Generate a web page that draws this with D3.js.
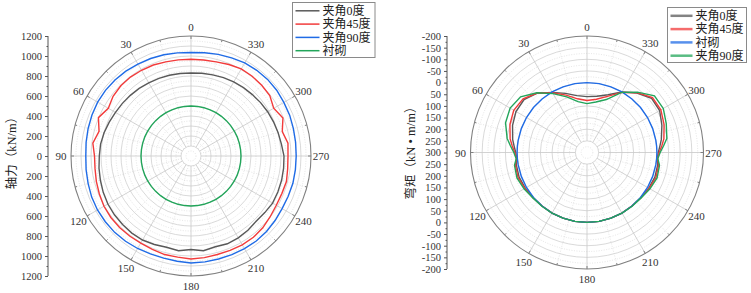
<!DOCTYPE html>
<html>
<head>
<meta charset="utf-8">
<script src="https://cdn.jsdelivr.net/npm/d3@7"></script>
<style>
  body { margin: 0; background: #fff; }
  text { font-family: "Liberation Serif", "Noto Sans CJK SC", serif; }
</style>
</head>
<body>
<svg width="751" height="293"></svg>
<script>
// ---- data: axial force (left) ----
var axialAngles = [0,7.5,15,22.5,30,37.5,45,52.5,60,67.5,75,82.5,90,97.5,105,112.5,120,127.5,135,142.5,150,157.5,165,172.5,
                   180,187.5,195,202.5,210,217.5,225,232.5,240,247.5,255,262.5,270,277.5,285,292.5,300,307.5,315,322.5,330,337.5,345,352.5]
var axial0 = [830,832,836,840,845,852,858,865,872,885,900,912,917,928,938,950,960,965,968,972,970,958,945,955,
              935,955,940,950,945,935,922,930,942,940,938,934,930,912,902,893,885,877,868,862,855,848,840,834]
var axial45 = [967,970,975,985,990,995,993,982,955,1002,952,990,965,968,980,992,1005,1010,1010,1008,1005,1010,1020,1020,
               1030,1025,1020,1022,1025,1025,1015,998,985,983,988,975,970,978,945,995,955,993,1000,1005,1005,990,975,968]
var axial90 = [1035,1040,1048,1055,1062,1070,1075,1078,1078,1072,1065,1058,1052,1058,1065,1075,1080,1080,1080,1075,1068,1060,1058,1062,
               1070,1068,1066,1068,1070,1072,1068,1060,1052,1052,1055,1053,1052,1055,1060,1068,1072,1080,1083,1080,1075,1062,1052,1042]
var axialLining = [500,500,500,500,500,500,500,500,500,500,500,500,500,500,500,500,500,500,500,500,500,500,500,500,
                   500,500,500,500,500,500,500,500,500,500,500,500,500,500,500,500,500,500,500,500,500,500,500,500]
var axialTicks = [0,200,400,600,800,1000,1200]

// ---- data: bending moment (right) ----
var momentAngles = [0,10,20,30,40,50,60,70,80,85,90,95,100,110,120,130,140,150,160,170,
                    180,190,200,210,220,230,240,250,260,265,270,275,280,290,300,310,320,330,340,350]
var moment0 = [60,52,30,2,-32,-53,-52,-40,-24,-14,-6,-3,-8,-10,-6,-2,0,0,0,0,
               0,0,0,0,0,-2,-6,-10,-8,-3,-6,-14,-24,-42,-60,-62,-33,0,36,55]
var moment45 = [77,66,38,4,-33,-58,-63,-52,-35,-22,-10,-4,-12,-15,-8,-2,0,0,0,0,
                0,0,0,0,0,-2,-8,-15,-12,-4,-10,-22,-35,-52,-66,-67,-35,2,44,68]
var momentLining = [0,0,0,0,0,0,0,0,0,0,0,0,0,0,0,0,0,0,0,0,
                    0,0,0,0,0,0,0,0,0,0,0,0,0,0,0,0,0,0,0,0]
var moment90 = [90,78,46,8,-35,-72,-81,-72,-48,-30,-14,-5,-16,-20,-12,-3,-1,0,0,0,
                0,0,0,0,-1,-3,-12,-20,-16,-5,-14,-30,-48,-62,-78,-78,-38,2,58,80]
var momentTicks = [-200,-150,-100,-50,0,50,100,150,200,250,300]

var angleLabels = [0,30,60,90,120,150,180,210,240,270,300,330]

var colGray = "#595959", colRed = "#f23b3b", colBlue = "#1f6be6", colGreen = "#22a55a"

var svg = d3.select("svg")

function drawPolar(opt) {
    var g = svg.append("g").attr("transform", "translate(" + opt.cx + "," + opt.cy + ")")
    var r = opt.r
    var R = opt.R
    var ang = function (deg) { return -deg * Math.PI / 180 }

    // minor rings (dotted)
    g.selectAll(".minorRing").data(opt.minorRings).enter().append("circle")
        .attr("r", function (d) { return r(d) })
        .attr("fill", "none").attr("stroke", "#d4d4d4").attr("stroke-width", 0.6)
        .attr("stroke-dasharray", "1,1.5")
    // major rings
    g.selectAll(".majorRing").data(opt.majorRings).enter().append("circle")
        .attr("r", function (d) { return r(d) })
        .attr("fill", "none").attr("stroke", "#cfcfcf").attr("stroke-width", 0.8)

    var r0 = opt.spokeStart
    // minor spokes
    g.selectAll(".minorSpoke").data(d3.range(15, 360, 30)).enter().append("line")
        .attr("x1", function (d) { return -r0 * Math.sin(d * Math.PI / 180) })
        .attr("y1", function (d) { return -r0 * Math.cos(d * Math.PI / 180) })
        .attr("x2", function (d) { return -R * Math.sin(d * Math.PI / 180) })
        .attr("y2", function (d) { return -R * Math.cos(d * Math.PI / 180) })
        .attr("stroke", "#d4d4d4").attr("stroke-width", 0.6).attr("stroke-dasharray", "1,1.5")
    // major spokes
    g.selectAll(".majorSpoke").data(angleLabels).enter().append("line")
        .attr("x1", function (d) { return -r0 * Math.sin(d * Math.PI / 180) })
        .attr("y1", function (d) { return -r0 * Math.cos(d * Math.PI / 180) })
        .attr("x2", function (d) { return -R * Math.sin(d * Math.PI / 180) })
        .attr("y2", function (d) { return -R * Math.cos(d * Math.PI / 180) })
        .attr("stroke", "#c8c8c8").attr("stroke-width", 0.8)

    // outer circle + ticks
    g.append("circle").attr("r", R).attr("fill", "none").attr("stroke", "#808080").attr("stroke-width", 1.1)
    g.selectAll(".otick").data(d3.range(0, 360, 15)).enter().append("line")
        .attr("x1", function (d) { return -(R - (d % 30 ? 2 : 3)) * Math.sin(d * Math.PI / 180) })
        .attr("y1", function (d) { return -(R - (d % 30 ? 2 : 3)) * Math.cos(d * Math.PI / 180) })
        .attr("x2", function (d) { return -R * Math.sin(d * Math.PI / 180) })
        .attr("y2", function (d) { return -R * Math.cos(d * Math.PI / 180) })
        .attr("stroke", "#808080").attr("stroke-width", 1)

    // angle labels
    g.selectAll(".alab").data(angleLabels).enter().append("text")
        .attr("x", function (d) { return -(R + 10) * Math.sin(d * Math.PI / 180) })
        .attr("y", function (d) { return -(R + 9.5) * Math.cos(d * Math.PI / 180) })
        .attr("text-anchor", "middle").attr("dominant-baseline", "central")
        .attr("font-size", 11).attr("fill", "#333")
        .text(function (d) { return d })

    // series
    opt.series.forEach(function (s) {
        var pts = s.values.map(function (v, i) { return [s.angles[i], v] })
        var line = d3.lineRadial()
            .angle(function (d) { return ang(d[0]) })
            .radius(function (d) { return r(d[1]) })
            .curve(d3.curveLinearClosed)
        g.append("path").attr("d", line(pts))
            .attr("fill", "none").attr("stroke", s.color).attr("stroke-width", 1.4)
    })

    // radial y-axis on the left (mirrored both ways)
    var centreVal = opt.axisDomain[1]
    var yTop = d3.scaleLinear().domain(opt.axisDomain).range([opt.cy - R, opt.cy])
    var yBot = d3.scaleLinear().domain(opt.axisDomain).range([opt.cy + R, opt.cy])
    var ax = svg.append("g").attr("transform", "translate(" + opt.axisX + ",0)")
    ax.append("line").attr("y1", opt.cy - R).attr("y2", opt.cy + R).attr("stroke", "#555").attr("stroke-width", 1)
    ;[yTop, yBot].forEach(function (sc, k) {
        var tv = k === 0 ? opt.ticks : opt.ticks.filter(function (d) { return d !== centreVal })
        var a = ax.append("g").call(d3.axisLeft(sc).tickValues(tv).tickSize(3).tickFormat(function (d) { return String(d) }))
        a.select(".domain").remove()
        a.selectAll("text").attr("font-size", 10.5).attr("fill", "#333").attr("font-family", "Liberation Serif")
        a.selectAll("line").attr("stroke", "#555")
        var mi = ax.append("g").call(d3.axisLeft(sc).tickValues(opt.minorTicks).tickSize(1.5).tickFormat(""))
        mi.select(".domain").remove()
        mi.selectAll("line").attr("stroke", "#555")
    })
    svg.append("text")
        .attr("transform", "translate(" + opt.titleX + "," + opt.titleY + ") rotate(-90)")
        .attr("text-anchor", "middle").attr("dominant-baseline", "central")
        .attr("font-size", 12.5).attr("fill", "#222")
        .text(opt.title)

    // legend
    var lg = svg.append("g")
    lg.append("rect").attr("x", opt.legend.x).attr("y", opt.legend.y)
        .attr("width", opt.legend.w).attr("height", opt.legend.h)
        .attr("fill", "#fff").attr("stroke", "#8a8a8a").attr("stroke-width", 1)
    opt.series.forEach(function (s, i) {
        var yy = opt.legend.y + 8.3 + i * 13.3
        lg.append("line").attr("x1", opt.legend.x + 3).attr("x2", opt.legend.x + opt.legend.len)
            .attr("y1", yy).attr("y2", yy).attr("stroke", s.color)
            .attr("stroke-width", opt.legend.lw).attr("stroke-opacity", opt.legend.op)
        lg.append("text").attr("x", opt.legend.x + opt.legend.len + 3).attr("y", yy + 4.3)
            .attr("font-size", 12).attr("fill", "#222")
            .text(s.name)
    })
}

drawPolar({
    cx: 191, cy: 156, R: 120,
    r: d3.scaleLinear().domain([0, 1200]).range([0, 120]),
    majorRings: d3.range(100, 1200, 100),
    minorRings: d3.range(50, 1200, 100),
    spokeStart: 10,
    axisX: 48, axisDomain: [1200, 0], ticks: axialTicks, minorTicks: d3.range(100, 1200, 200),
    title: "轴力（kN/m）", titleX: 12, titleY: 150,
    legend: { x: 292.5, y: 2.5, w: 82.5, h: 55, lw: 1.5, op: 1, len: 27 },
    series: [
        { name: "夹角0度", color: colGray, angles: axialAngles, values: axial0 },
        { name: "夹角45度", color: colRed, angles: axialAngles, values: axial45 },
        { name: "夹角90度", color: colBlue, angles: axialAngles, values: axial90 },
        { name: "衬砌", color: colGreen, angles: axialAngles, values: axialLining }
    ]
})

drawPolar({
    cx: 587, cy: 152.5, R: 116.5,
    r: d3.scaleLinear().domain([300, -200]).range([0, 116.5]),
    majorRings: d3.range(250, -200, -50),
    minorRings: d3.range(275, -200, -50),
    spokeStart: 11.65,
    axisX: 447, axisDomain: [-200, 300], ticks: momentTicks, minorTicks: d3.range(-175, 300, 50),
    title: "弯矩（kN • m/m）", titleX: 411, titleY: 150,
    legend: { x: 667.5, y: 7.5, w: 79, h: 55, lw: 2.5, op: 0.75, len: 25 },
    series: [
        { name: "夹角0度", color: colGray, angles: momentAngles, values: moment0 },
        { name: "夹角45度", color: colRed, angles: momentAngles, values: moment45 },
        { name: "衬砌", color: colBlue, angles: momentAngles, values: momentLining },
        { name: "夹角90度", color: colGreen, angles: momentAngles, values: moment90 }
    ]
})
</script>
</body>
</html>
